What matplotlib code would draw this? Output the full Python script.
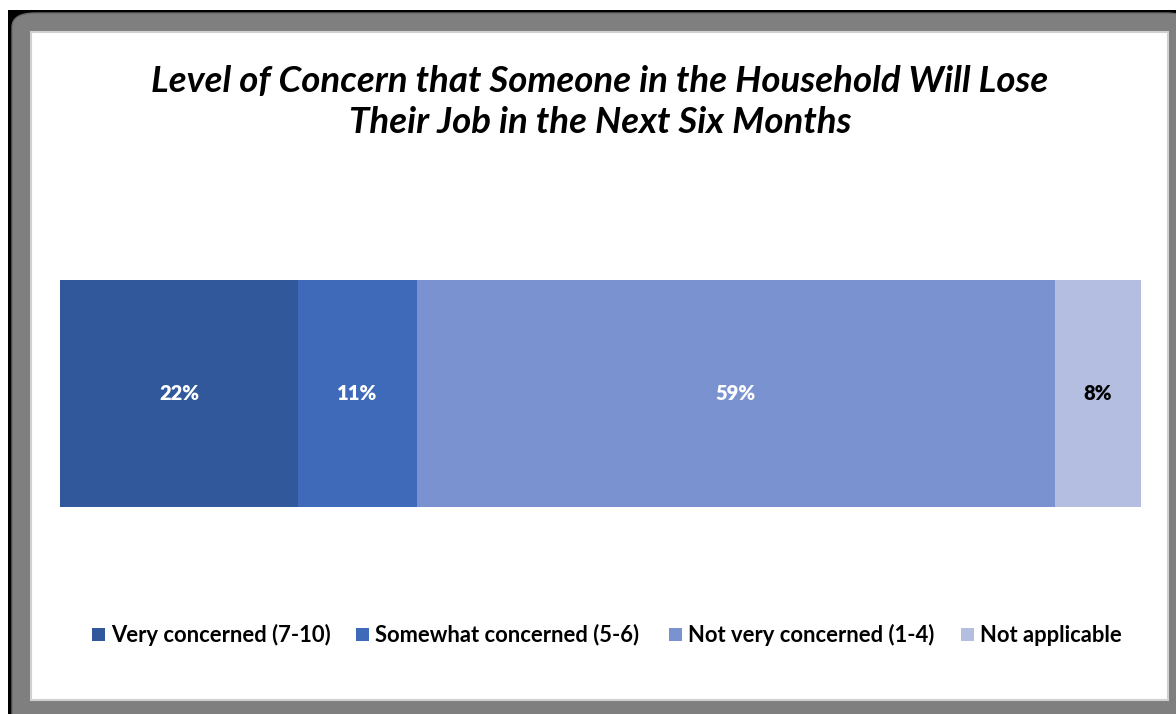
import matplotlib.pyplot as plt
from matplotlib.patches import Rectangle, FancyBboxPatch

categories = ['Very concerned (7-10)', 'Somewhat concerned (5-6)',
              'Not very concerned (1-4)', 'Not applicable']
values = [22, 11, 59, 8]
colors = ['#30589A', '#3F6AB9', '#7A93D0', '#B3BEE0']
label_colors = ['white', 'white', 'white', 'black']

title = 'Level of Concern that Someone in the Household Will Lose\nTheir Job in the Next Six Months'

W, H = 1176, 714
fig = plt.figure(figsize=(W / 100, H / 100), dpi=100)
plt.rcParams['font.family'] = ['Lato', 'DejaVu Sans']


def box(x0, y0, x1, y1):
    # pixel box (top-left origin) -> figure fraction
    return x0 / W, 1 - y1 / H, (x1 - x0) / W, (y1 - y0) / H


# frame ---------------------------------------------
x, y, w, h = box(8, 10, 1190, 730)
fig.add_artist(Rectangle((x, y), w, h, transform=fig.transFigure, color='black', lw=0, zorder=-3))
x, y, w, h = box(12, 13, 1190, 730)
fig.add_artist(FancyBboxPatch((x, y), w, h, boxstyle='round,pad=0,rounding_size=0.02',
                              transform=fig.transFigure, fc='#7f7f7f', ec='#6a6a6a', lw=1, zorder=-2))
x, y, w, h = box(31, 32, 1168, 700)
fig.add_artist(Rectangle((x, y), w, h, transform=fig.transFigure, fc='white', ec='#d0d0d0',
                         lw=1.5, zorder=-1))

# bar -----------------------------------------------
x, y, w, h = box(60, 280, 1141, 507)
ax = fig.add_axes([x, y, w, h])
ax.set_zorder(2)
ax.patch.set_visible(False)
left = 0
for v, c, lc in zip(values, colors, label_colors):
    ax.barh(0, v, left=left, height=1, color=c, lw=0)
    ax.text(left + v / 2, 0, f'{v}%', ha='center', va='center',
            color=lc, fontsize=14.5, fontweight='heavy')
    left += v
ax.set_xlim(0, 100)
ax.set_ylim(-0.5, 0.5)
ax.axis('off')

fig.text(600 / W, 1 - 102 / H, title, ha='center', va='center', fontsize=26.4,
         fontweight='bold', style='italic', linespacing=1.32)

# legend --------------------------------------------
leg_x = [92, 356, 669, 961]
for lx, cat, c in zip(leg_x, categories, colors):
    x, y, w, h = box(lx, 628, lx + 13, 641)
    fig.add_artist(Rectangle((x, y), w, h, transform=fig.transFigure, color=c, lw=0))
    fig.text((lx + 19) / W, 1 - 635 / H, cat, ha='left', va='center',
             fontsize=15.8, fontweight='bold')

fig.savefig('out.png', dpi=100)
